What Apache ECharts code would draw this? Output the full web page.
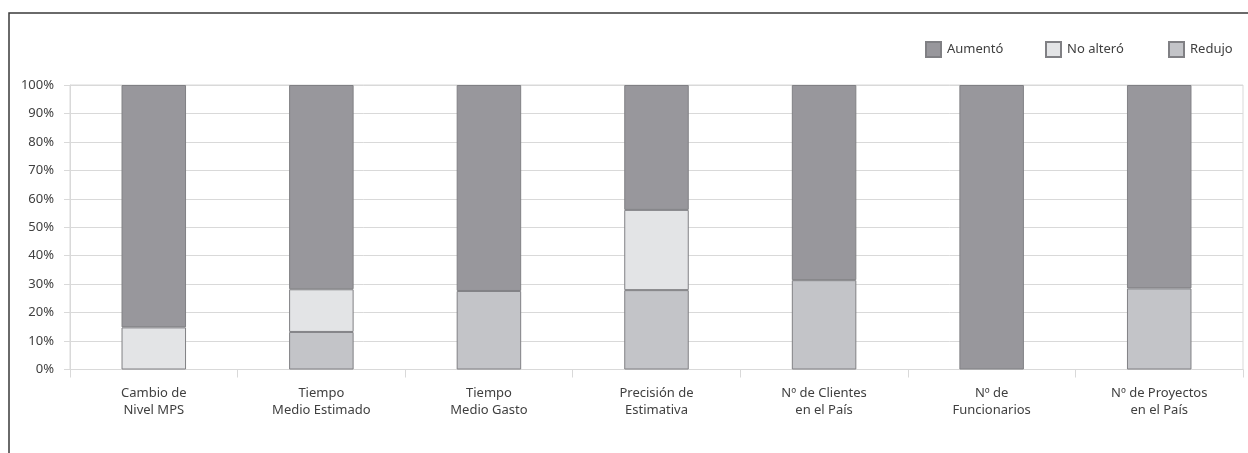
<!DOCTYPE html>
<html>
<head>
<meta charset="utf-8">
<script src="https://cdn.jsdelivr.net/npm/echarts@6/dist/echarts.min.js"></script>
<style>
  html, body { margin: 0; padding: 0; background: #ffffff; }
  #chart { width: 1248px; height: 453px; }
</style>
</head>
<body>
<div id="chart"></div>
<script>
// Categories (two-line labels)
const categories = [
  'Cambio de\nNivel MPS',
  'Tiempo\nMedio Estimado',
  'Tiempo\nMedio Gasto',
  'Precisión de\nEstimativa',
  'Nº de Clientes\nen el País',
  'Nº de\nFuncionarios',
  'Nº de Proyectos\nen el País'
];

// Percentages per response, stacked bottom to top: Redujo, No alteró, Aumentó
const redujo   = [0,    13.2, 27.6, 27.9, 31.4, 0,   28.5];
const noAltero = [14.8, 15.0, 0,    28.2, 0,    0,   0];
const aumento  = [85.2, 71.8, 72.4, 43.9, 68.6, 100, 71.5];

const yTicks = [0, 10, 20, 30, 40, 50, 60, 70, 80, 90, 100];

const FONT = 'Noto Sans';
const TEXT = '#404040';
const EDGE = '#808084';

const colors = {
  aumento: '#98979c',
  noAltero: '#e3e4e6',
  redujo: '#c3c4c8'
};

// Empty segments are left out so they draw no outline at the baseline
function barSeries(name, data, color) {
  return {
    name: name,
    type: 'bar',
    stack: 'total',
    data: data.map(v => (v === 0 ? '-' : v)),
    barWidth: '38.5%',
    itemStyle: { color: color, borderColor: EDGE, borderWidth: 1 },
    emphasis: { disabled: true }
  };
}

function legendAt(name, left) {
  return {
    data: [name],
    left: left,
    top: 41,
    padding: 0,
    itemWidth: 15,
    itemHeight: 15,
    itemGap: 0,
    icon: 'rect',
    selectedMode: false,
    textStyle: { fontFamily: FONT, fontSize: 13, color: TEXT, padding: [0, 0, 0, 1] }
  };
}

const chart = echarts.init(document.getElementById('chart'), null, { renderer: 'canvas' });

chart.setOption({
  animation: false,
  backgroundColor: '#ffffff',
  textStyle: { fontFamily: FONT },
  graphic: [{
    type: 'rect',
    shape: { x: 9, y: 13, width: 1400, height: 600 },
    style: { fill: 'none', stroke: '#3a3a3a', lineWidth: 1.5 },
    silent: true
  }],
  legend: [
    legendAt('Aumentó', 925),
    legendAt('No alteró', 1045),
    legendAt('Redujo', 1168)
  ],
  grid: {
    left: 70,
    right: 5,
    top: 85,
    bottom: 83.5,
    show: true,
    borderColor: '#d9d9d9',
    borderWidth: 1,
    containLabel: false
  },
  xAxis: {
    type: 'category',
    data: categories,
    axisLine: { show: true, lineStyle: { color: '#d9d9d9', width: 1 } },
    axisTick: { show: true, length: 8, lineStyle: { color: '#d9d9d9' } },
    axisLabel: {
      fontFamily: FONT,
      fontSize: 13,
      color: TEXT,
      lineHeight: 17,
      margin: 15,
      interval: 0
    }
  },
  yAxis: {
    type: 'value',
    min: yTicks[0],
    max: yTicks[yTicks.length - 1],
    interval: 10,
    axisLine: { show: true, lineStyle: { color: '#d9d9d9' } },
    axisTick: { show: true, length: 6, lineStyle: { color: '#d9d9d9' } },
    splitLine: { show: true, lineStyle: { color: '#d9d9d9', width: 1 } },
    axisLabel: {
      fontFamily: FONT,
      fontSize: 13,
      color: TEXT,
      margin: 16,
      formatter: v => v + '%'
    }
  },
  series: [
    barSeries('Redujo', redujo, colors.redujo),
    barSeries('No alteró', noAltero, colors.noAltero),
    barSeries('Aumentó', aumento, colors.aumento)
  ]
});
</script>
</body>
</html>
